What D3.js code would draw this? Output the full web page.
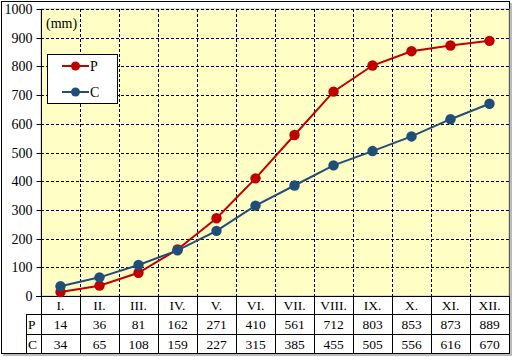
<!DOCTYPE html>
<html><head><meta charset="utf-8">
<script src="https://cdn.jsdelivr.net/npm/d3@7"></script>
<style>body{margin:0;background:#fff}svg{display:block}text{font-family:"Liberation Serif","Times New Roman",serif;fill:#000}</style>
</head><body>
<svg id="c" width="513" height="357"></svg>
<script>
const months = ["I.","II.","III.","IV.","V.","VI.","VII.","VIII.","IX.","X.","XI.","XII."];
const seriesP = [14,36,81,162,271,410,561,712,803,853,873,889];
const seriesC = [34,65,108,159,227,315,385,455,505,556,616,670];
const yTicks = [0,100,200,300,400,500,600,700,800,900,1000];
const series = [
  {name:"P", values:seriesP, color:"#C00000"},
  {name:"C", values:seriesC, color:"#1F4E79"}
];

const svg = d3.select("#c");
const L = 41, R = 509, T = 9, B = 296;
const x = d3.scaleBand().domain(months).range([L, R]).padding(0);
const y = d3.scaleLinear().domain([0, 1000]).range([B, T]);

// outer frame with shadow
svg.append("rect").attr("x",3).attr("y",3).attr("width",509).attr("height",353).attr("fill","#bbb");
svg.append("rect").attr("x",1.5).attr("y",1.5).attr("width",508).attr("height",352).attr("fill","#fff").attr("stroke","#000").attr("stroke-width",1);

// plot background
svg.append("rect").attr("x",L).attr("y",T).attr("width",R-L).attr("height",B-T).attr("fill","#FFFFC5").attr("stroke","#bbb").attr("stroke-width",1);

// gridlines
const g = svg.append("g");
yTicks.filter(d=>d>0).forEach(d=>{
  g.append("line").attr("x1",L).attr("x2",R).attr("y1",Math.round(y(d))+0.5).attr("y2",Math.round(y(d))+0.5)
   .attr("stroke","#000").attr("stroke-dasharray","3,2").attr("stroke-width",1);
});
months.slice(1).forEach(m=>{
  const xx = Math.round(x(m))+0.5;
  g.append("line").attr("x1",xx).attr("x2",xx).attr("y1",T).attr("y2",B)
   .attr("stroke","#000").attr("stroke-dasharray","3,2").attr("stroke-width",1);
});

// y axis
const yAxis = d3.axisLeft(y).tickValues(yTicks).tickSize(5).tickPadding(4).tickFormat(d3.format("d"));
const ya = svg.append("g").attr("transform",`translate(${L+0.5},0)`).call(yAxis);
ya.select(".domain").attr("stroke","#000").attr("d",`M-5,${B+0.5}H0V${T}`);
ya.selectAll(".tick line").attr("stroke","#000");
ya.selectAll(".tick").attr("transform",d=>`translate(0,${Math.round(y(d))+0.5})`);
ya.selectAll(".tick text").attr("font-size",14).attr("font-family","Liberation Serif").attr("fill","#000").attr("dy","0.35em");

// x axis baseline
svg.append("line").attr("x1",L-5).attr("x2",R).attr("y1",B+0.5).attr("y2",B+0.5).attr("stroke","#000");

// unit label
svg.append("text").attr("x",46).attr("y",28).attr("font-size",14).text("(mm)");

// lines + markers
const line = d3.line().x((d,i)=>x(months[i])+x.bandwidth()/2).y(d=>y(d));
series.forEach(s=>{
  svg.append("path").datum(s.values).attr("d",line).attr("fill","none").attr("stroke",s.color).attr("stroke-width",2);
});
series.forEach(s=>{
  svg.append("g").selectAll("circle").data(s.values).join("circle")
    .attr("cx",(d,i)=>x(months[i])+x.bandwidth()/2).attr("cy",d=>y(d)).attr("r",5.2).attr("fill",s.color);
});

// legend
const lg = svg.append("g");
lg.append("rect").attr("x",47.5).attr("y",54.5).attr("width",70).attr("height",49).attr("fill","#fff").attr("stroke","#000");
series.forEach((s,i)=>{
  const yy = 66 + i*26;
  lg.append("line").attr("x1",62).attr("x2",89).attr("y1",yy).attr("y2",yy).attr("stroke",s.color).attr("stroke-width",2);
  lg.append("circle").attr("cx",75.5).attr("cy",yy).attr("r",4.5).attr("fill",s.color);
  lg.append("text").attr("x",90).attr("y",yy).attr("dy","0.35em").attr("font-size",14).text(s.name);
});

// data table
const rowTops = [296, 314, 334, 354];
const tb = svg.append("g");
tb.append("line").attr("x1",26).attr("x2",R).attr("y1",314.5).attr("y2",314.5).attr("stroke","#000");
tb.append("line").attr("x1",26).attr("x2",R).attr("y1",334.5).attr("y2",334.5).attr("stroke","#000");
tb.append("line").attr("x1",26.5).attr("x2",26.5).attr("y1",314).attr("y2",354).attr("stroke","#000");
months.forEach(m=>{
  const xx = Math.round(x(m))+0.5;
  tb.append("line").attr("x1",xx).attr("x2",xx).attr("y1",B).attr("y2",354).attr("stroke","#000");
});
tb.append("line").attr("x1",R+0.5).attr("x2",R+0.5).attr("y1",B).attr("y2",354).attr("stroke","#000");
tb.selectAll("text.m").data(months).join("text").attr("class","m")
  .attr("x",d=>x(d)+x.bandwidth()/2).attr("y",(rowTops[0]+rowTops[1])/2).attr("dy","0.35em")
  .attr("text-anchor","middle").attr("font-size",13.5).text(d=>d);
series.forEach((s,si)=>{
  const cy = (rowTops[si+1]+rowTops[si+2])/2;
  tb.append("text").attr("x",28).attr("y",cy).attr("dy","0.35em").attr("font-size",13.5).text(s.name);
  tb.selectAll(null).data(s.values).join("text")
    .attr("x",(d,i)=>x(months[i])+x.bandwidth()/2).attr("y",cy).attr("dy","0.35em")
    .attr("text-anchor","middle").attr("font-size",13.5).text(d=>d);
});
</script>
</body></html>
